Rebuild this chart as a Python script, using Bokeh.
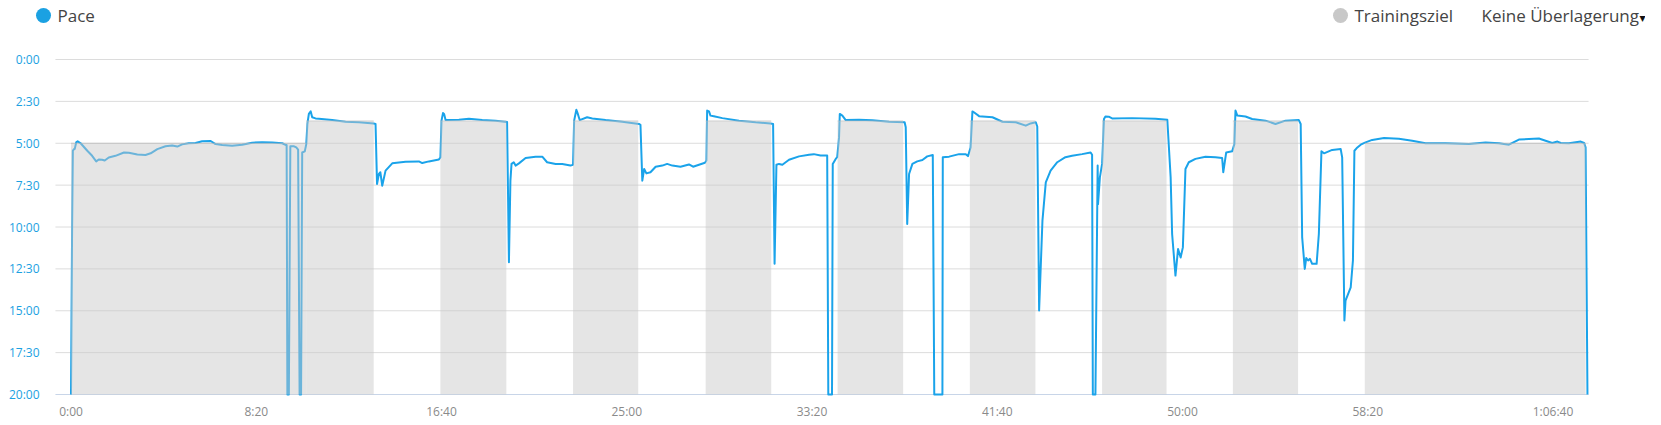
from bokeh.plotting import figure
from bokeh.layouts import column
from bokeh.models import Range1d, FixedTicker, ColumnDataSource
from bokeh.core.properties import value
from bokeh.embed import file_html
from bokeh.resources import INLINE

# ---- data (seconds) ----
time_s = [0, 3, 5, 8, 10, 14, 18, 26, 44, 57, 68, 75, 84, 91, 102, 120, 143, 156, 179, 201, 215, 233, 255, 273,
          287, 300, 318, 336, 354, 377, 390, 408, 435, 462, 489, 516, 543, 570, 579,
          582, 584, 588, 592, 602, 608, 613, 617, 621, 624, 631, 635, 638, 642, 647, 651, 660,
          669, 705, 741, 777, 817, 822, 826, 831, 835, 840, 849, 867, 903, 939, 948, 966, 993, 997,
          1000, 1004, 1007, 1011, 1047, 1074, 1110, 1146, 1177, 1182, 1186, 1189, 1195, 1200, 1209, 1227,
          1254, 1272, 1285, 1308, 1326, 1348, 1355, 1358, 1364, 1368, 1373, 1393, 1407, 1443, 1488, 1533,
          1537, 1542, 1547, 1553, 1564, 1578, 1596, 1609, 1623, 1645, 1668, 1679, 1695, 1711, 1715, 1717,
          1722, 1726, 1735, 1758, 1803, 1848, 1888, 1895, 1899, 1904, 1911, 1920, 1938, 1965, 1992, 2005,
          2023, 2041, 2044, 2054, 2056, 2064, 2068, 2073, 2075, 2082, 2091, 2127, 2163, 2208, 2250, 2253,
          2257, 2262, 2271, 2284, 2298, 2311, 2326, 2330, 2352, 2353, 2370, 2397, 2415, 2421, 2428, 2433,
          2437, 2451, 2487, 2514, 2550, 2577, 2590, 2604, 2608, 2613, 2622, 2631, 2644, 2662, 2684, 2702,
          2729, 2752, 2756, 2758, 2765, 2771, 2772, 2777, 2783, 2788, 2792, 2801, 2810, 2864, 2927, 2959,
          2968, 2972, 2981, 2988, 2995, 3001, 3008, 3017, 3035, 3062, 3089, 3107, 3110, 3118, 3134, 3140,
          3143, 3148, 3170, 3188, 3224, 3251, 3278, 3314, 3319, 3323, 3330, 3334, 3339, 3344, 3350, 3362,
          3368, 3375, 3382, 3404, 3427, 3431, 3437, 3440, 3454, 3460, 3464, 3472, 3481, 3494, 3512, 3544,
          3584, 3620, 3656, 3710, 3773, 3818, 3854, 3881, 3908, 3962, 3980, 3998, 4012, 4021, 4043, 4075,
          4084, 4088, 4093]
pace_s = [1200, 600, 327, 321, 321, 297, 293, 300, 327, 345, 365, 358, 359, 362, 351, 345, 333, 334, 340, 342, 336, 321, 311, 308,
          312, 304, 300, 299, 293, 292, 303, 306, 309, 305, 298, 296, 297, 300, 306,
          306, 1200, 1200, 311, 311, 315, 323, 1200, 1200, 333, 329, 303, 231, 195, 186, 207, 211,
          212, 217, 223, 225, 229, 231, 446, 410, 404, 452, 398, 372, 366, 365, 371, 365, 358, 351,
          219, 192, 195, 217, 216, 212, 217, 219, 224, 726, 434, 374, 368, 380, 372, 353,
          348, 348, 368, 374, 374, 380, 377, 219, 180, 195, 217, 207, 211, 217, 223, 231,
          234, 434, 392, 408, 404, 384, 380, 374, 380, 384, 376, 384, 377, 370, 362, 183,
          186, 201, 203, 210, 219, 225, 229, 231, 732, 377, 374, 377, 359, 347, 341, 339,
          344, 344, 1200, 1200, 374, 356, 350, 279, 195, 201, 217, 216, 218, 223, 225, 243,
          589, 410, 374, 365, 360, 347, 342, 1200, 1200, 350, 348, 339, 339, 346, 315, 186,
          189, 203, 207, 223, 225, 237, 229, 225, 240, 899, 577, 440, 398, 368, 350, 345,
          339, 333, 341, 1200, 1200, 380, 518, 422, 374, 213, 204, 205, 211, 210, 212, 216,
          422, 625, 774, 679, 709, 673, 392, 368, 356, 348, 350, 353, 404, 333, 329, 303,
          183, 201, 204, 213, 219, 231, 219, 217, 231, 637, 750, 711, 720, 714, 732, 732,
          625, 329, 336, 324, 321, 351, 935, 864, 816, 720, 327, 315, 305, 297, 288, 281,
          284, 291, 300, 300, 303, 297, 300, 305, 287, 283, 291, 299, 294, 299, 300, 294,
          299, 315, 1200]

target_start = [0, 635, 997, 1355, 1713, 2069, 2426, 2783, 3136, 3492]
target_end = [635, 817, 1175, 1531, 1890, 2246, 2603, 2957, 3312, 4088]
target_pace = [300, 220, 220, 220, 220, 220, 220, 220, 220, 300]

y_tick_values = [0, 150, 300, 450, 600, 750, 900, 1050, 1200]
y_tick_labels = ["0:00", "2:30", "5:00", "7:30", "10:00", "12:30", "15:00", "17:30", "20:00"]
x_tick_values = [0, 500, 1000, 1500, 2000, 2500, 3000, 3500, 4000]
x_tick_labels = ["0:00", "8:20", "16:40", "25:00", "33:20", "41:40", "50:00", "58:20", "1:06:40"]

legend_labels = ["Pace", "Trainingsziel"]
overlay_label = "Keine Überlagerung"

# ---- style / layout constants ----
BLUE = "#1aa3ea"
AXIS_BLUE = "#1ba1e2"
FONT = "Open Sans"
W = 1645
HEADER_H = 51
PX_PER_S = 0.3705          # horizontal scale
X0_PX = 70.5               # pixel position of t = 0
PLOT_T_MIN, PLOT_T_MAX = -42, 4096   # extent of the plotting area (gridlines)
Y_TOP_PX = 8               # offset of the 0:00 line below the top of the chart figure
S_PER_PX = 1200 / 335.0
FRAME_H = 349

# ---------- header (legend row) ----------
hdr = figure(width=W, height=HEADER_H, output_backend="svg", toolbar_location=None,
             x_range=Range1d(0, W), y_range=Range1d(HEADER_H, 0),
             x_axis_location=None, y_axis_location=None,
             min_border_left=0, min_border_right=0, min_border_top=0, min_border_bottom=0)
hdr.grid.grid_line_color = None
hdr.outline_line_color = None
hdr.background_fill_color = "white"
hdr.border_fill_color = "white"

hdr.scatter(x=[43, 1340], y=[15, 15], size=15, marker="circle",
            fill_color=[AXIS_BLUE, "#c8c8c8"], line_color=None)
hdr.text(x=[57, 1354], y=[15, 15], text=legend_labels, text_font=value(FONT),
         text_font_size="17px", text_color="#444444", text_baseline="middle")
hdr.text(x=[1481], y=[15], text=[overlay_label], text_font=value(FONT),
         text_font_size="17px", text_color="#444444", text_baseline="middle")
hdr.text(x=[1645], y=[17], text=["▾"], text_font=value("DejaVu Sans"),
         text_font_size="12px", text_color="#111111", text_baseline="middle", text_align="right")

# ---------- main chart ----------
x_lo = -X0_PX / PX_PER_S
x_hi = (W - X0_PX) / PX_PER_S
y_lo = -Y_TOP_PX * S_PER_PX
y_hi = y_lo + FRAME_H * S_PER_PX

p = figure(frame_width=W, frame_height=FRAME_H, output_backend="svg", toolbar_location=None,
           x_range=Range1d(x_lo, x_hi), y_range=Range1d(y_hi, y_lo),
           y_axis_location=None,
           min_border_left=0, min_border_right=0, min_border_top=0, min_border_bottom=18)
p.outline_line_color = None
p.background_fill_color = "white"
p.border_fill_color = "white"
p.grid.grid_line_color = None

p.xaxis.ticker = FixedTicker(ticks=x_tick_values)
p.xaxis.major_label_overrides = dict(zip(x_tick_values, x_tick_labels))
p.xaxis.axis_line_color = None
p.xaxis.major_tick_line_color = None
p.xaxis.minor_tick_line_color = None
p.xaxis.major_tick_out = 0
p.xaxis.major_tick_in = 0
p.xaxis.minor_tick_out = 0
p.xaxis.major_label_standoff = 2
p.xaxis.major_label_text_color = "#8a8a8a"
p.xaxis.major_label_text_font = FONT
p.xaxis.major_label_text_font_size = "12px"

# horizontal gridlines (last one is the bottom axis line)
grid_colors = ["#dcdcdc"] * (len(y_tick_values) - 1) + ["#c8d5e8"]
p.segment(x0=[PLOT_T_MIN] * len(y_tick_values), x1=[PLOT_T_MAX] * len(y_tick_values),
          y0=y_tick_values, y1=y_tick_values, line_color=grid_colors, line_width=1)

# y tick labels
p.text(x=[(39 - X0_PX) / PX_PER_S] * len(y_tick_values), y=y_tick_values, text=y_tick_labels,
       text_font=value(FONT), text_font_size="12px", text_color=AXIS_BLUE,
       text_align="right", text_baseline="middle")

# pace line
p.line(time_s, pace_s, line_color=BLUE, line_width=2, line_join="round")

# training target overlay (drawn on top, semi-transparent)
tsrc = ColumnDataSource(dict(left=target_start, right=target_end, top=target_pace,
                             bottom=[1200] * len(target_pace)))
p.quad(left="left", right="right", top="top", bottom="bottom", source=tsrc,
       fill_color="#c8c8c8", fill_alpha=0.47, line_color=None)
p.segment(x0="left", x1="right", y0="top", y1="top", source=tsrc,
          line_color="#b8b8b8", line_alpha=0.6, line_width=1)

layout = column(hdr, p, spacing=0)
open("out.html", "w").write(file_html(layout, INLINE))
